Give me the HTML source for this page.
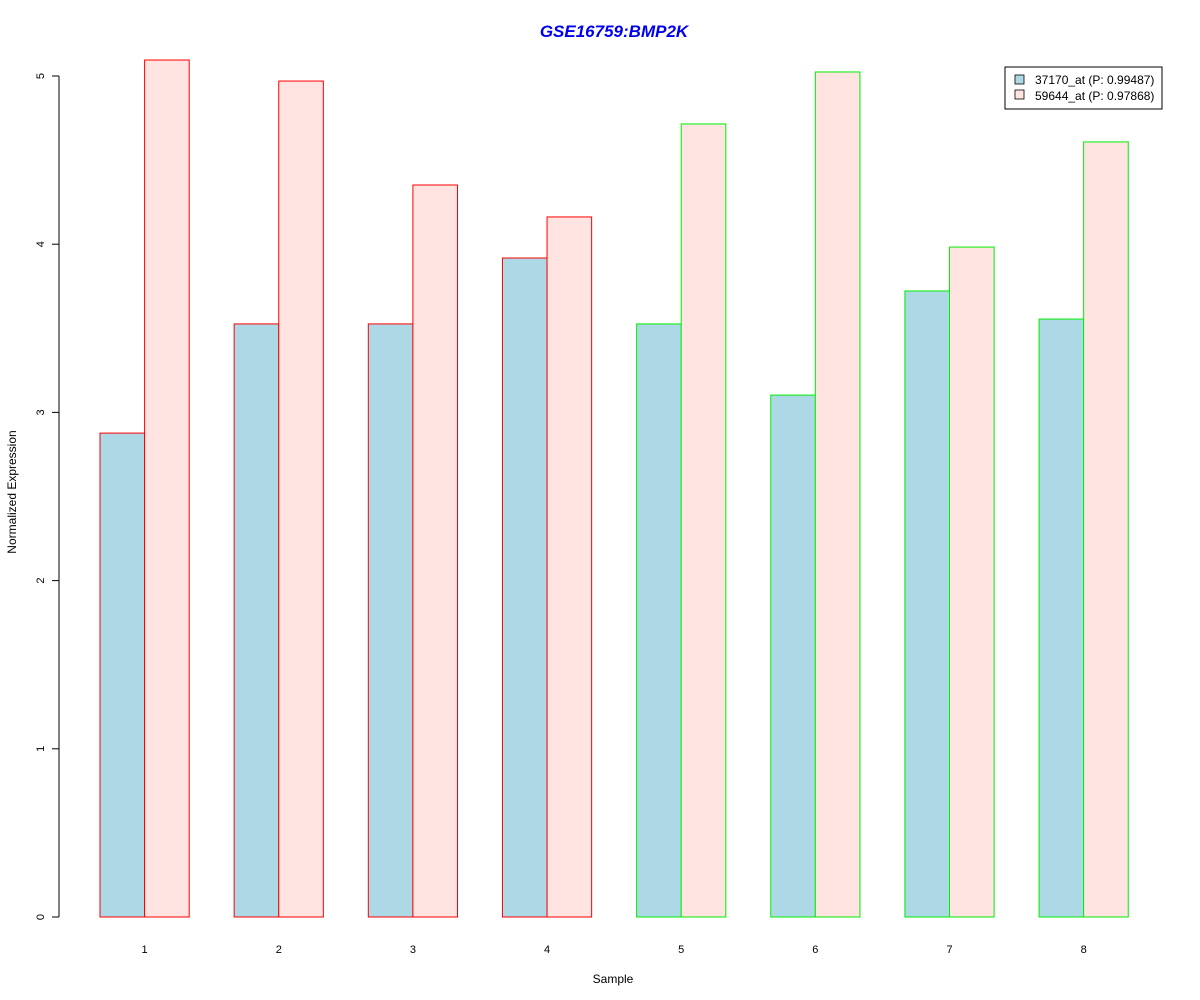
<!DOCTYPE html>
<html><head><meta charset="utf-8"><style>
html,body{margin:0;padding:0;background:#fff;}
svg{display:block;font-family:"Liberation Sans",Arial,sans-serif;}
</style></head><body>
<svg id="chart" width="1200" height="1000" viewBox="0 0 1200 1000">
<text x="614" y="37" text-anchor="middle" font-size="17" font-weight="bold" font-style="italic" fill="#0000ee">GSE16759:BMP2K</text>
<text x="613" y="983" text-anchor="middle" font-size="12">Sample</text>
<text transform="translate(16,492) rotate(-90)" text-anchor="middle" font-size="12">Normalized Expression</text>
<g id="yaxis"></g>
<g id="bars"></g>
<g id="xlabels"></g>
<g>
<rect x="1005" y="67" width="157" height="42" fill="#fff" stroke="#000" stroke-width="1"/>
<rect x="1015" y="75" width="9" height="9" fill="#add8e6" stroke="#000" stroke-width="0.8"/>
<text x="1035" y="84" font-size="12">37170_at (P: 0.99487)</text>
<rect x="1015" y="90" width="9" height="9" fill="#ffe4e1" stroke="#000" stroke-width="0.8"/>
<text x="1035" y="100" font-size="12">59644_at (P: 0.97868)</text>
</g>
</svg>
<script>
const categories = ["1","2","3","4","5","6","7","8"];
const series37170 = [2.877, 3.526, 3.526, 3.918, 3.526, 3.103, 3.722, 3.555];
const series59644 = [5.095, 4.970, 4.352, 4.162, 4.715, 5.024, 3.983, 4.608];
const groupBorder = ["#ff0000","#ff0000","#ff0000","#ff0000","#00ee00","#00ee00","#00ee00","#00ee00"];
const yTicks = [0,1,2,3,4,5];

const NS = "http://www.w3.org/2000/svg";
const y0 = 917, yPerUnit = (917-76)/5;
function yScale(v){ return y0 - v*yPerUnit; }
const groupStart = 100, groupStep = 134.15, barW = 44.6;
function xScale(i){ return groupStart + i*groupStep; }
function mk(tag, attrs, parent){ const e=document.createElementNS(NS,tag); for(const k in attrs) e.setAttribute(k,attrs[k]); parent.appendChild(e); return e; }

const yaxis = document.getElementById('yaxis');
const axLine = mk('line',{x1:59,y1:yScale(0),x2:59,y2:yScale(5),stroke:'#000','stroke-width':1},yaxis);


yTicks.forEach(t=>{
  const y=yScale(t);
  const tk = mk('line',{x1:52,y1:y,x2:59,y2:y,stroke:'#000','stroke-width':1},yaxis);
  
  
  const lb = mk('text',{transform:`translate(44,${y}) rotate(-90)`,'text-anchor':'middle','font-size':11},yaxis);
  lb.textContent = t;
  
  
});

const bars = document.getElementById('bars');
const xl = document.getElementById('xlabels');
categories.forEach((c,i)=>{
  const x = xScale(i);
  const b1 = mk('rect',{x:x,y:yScale(series37170[i]),width:barW,height:yScale(0)-yScale(series37170[i]),fill:'#add8e6',stroke:groupBorder[i],'stroke-width':1},bars);
  
  
  const b2 = mk('rect',{x:x+barW,y:yScale(series59644[i]),width:barW,height:yScale(0)-yScale(series59644[i]),fill:'#ffe4e1',stroke:groupBorder[i],'stroke-width':1},bars);
  
  
  const t = mk('text',{x:x+barW,y:953,'text-anchor':'middle','font-size':11},xl);
  t.textContent = c;
  
  
});
</script>
</body></html>
